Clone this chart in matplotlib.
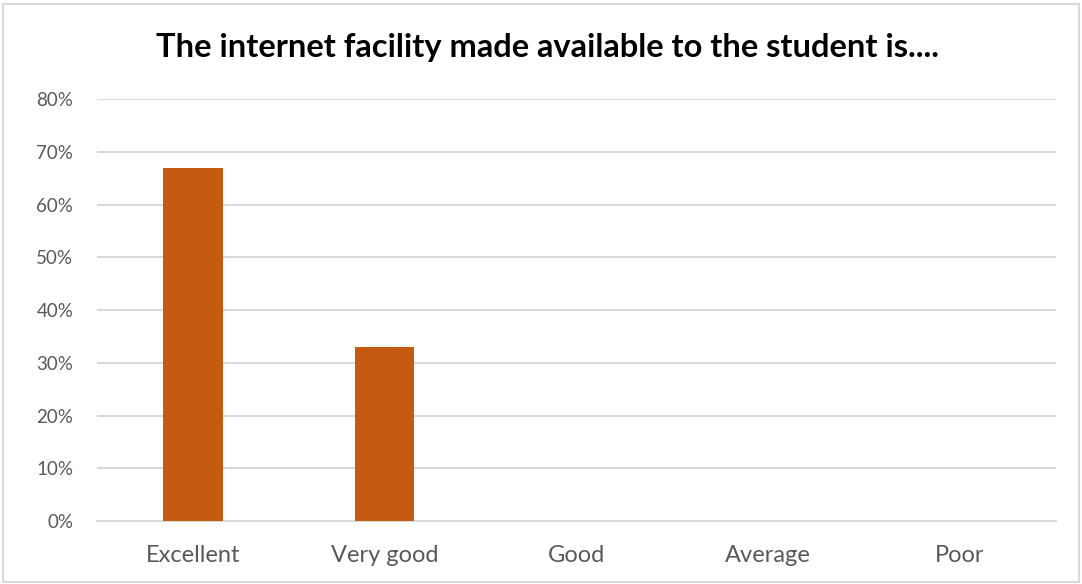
import matplotlib
matplotlib.use("Agg")
import matplotlib.pyplot as plt
from matplotlib.patches import Rectangle
from matplotlib.ticker import FuncFormatter

categories = ["Excellent", "Very good", "Good", "Average", "Poor"]
shares = [0.67, 0.33, 0.0, 0.0, 0.0]
y_ticks = [0, 0.1, 0.2, 0.3, 0.4, 0.5, 0.6, 0.7, 0.8]

plt.rcParams['font.family'] = ['Lato', 'DejaVu Sans']

fig = plt.figure(figsize=(10.82, 5.84), dpi=100)
ax = fig.add_axes([0.0896, 0.108, 0.8864, 0.722])

x = list(range(len(categories)))
ax.bar(x, shares, width=0.31, color="#C55A11", zorder=3)

ax.set_xlim(-0.5, len(categories) - 0.5)
ax.set_ylim(0, 0.8)
ax.set_yticks(y_ticks)
ax.yaxis.set_major_formatter(FuncFormatter(lambda v, p: f"{v * 100:.0f}%"))
ax.set_xticks(x)
ax.set_xticklabels(categories)

ax.grid(axis="y", color="#D9D9D9", linewidth=1.5, zorder=0)
for s in ["top", "right", "left"]:
    ax.spines[s].set_visible(False)
ax.spines["bottom"].set_color("#D9D9D9")
ax.spines["bottom"].set_linewidth(1.5)
ax.tick_params(axis="both", length=0, colors="#595959")
ax.tick_params(axis="y", pad=17, labelsize=13.5)
ax.tick_params(axis="x", pad=17, labelsize=17)
for lbl in ax.get_yticklabels():
    lbl.set_horizontalalignment("right")

fig.text(0.506, 0.918, "The internet facility made available to the student is....",
         ha="center", va="center", fontsize=23.5, fontweight="bold", color="black")

fig.patches.append(Rectangle((0.003, 0.004), 0.994, 0.99, transform=fig.transFigure,
                             fill=False, edgecolor="#D9D9D9", linewidth=1.5))

fig.savefig("out.png", dpi=100)
